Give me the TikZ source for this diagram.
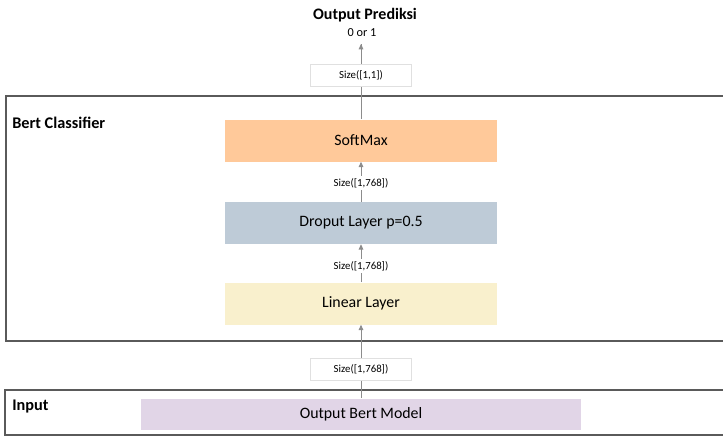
\documentclass[tikz,border=0pt]{standalone}
\usepackage{fontspec}
\setmainfont{Carlito}
\usetikzlibrary{arrows.meta}
\definecolor{softmaxfill}{HTML}{FFC99A}
\definecolor{dropfill}{HTML}{BECBD7}
\definecolor{linearfill}{HTML}{F9F0CD}
\definecolor{bertfill}{HTML}{E1D5E7}
\definecolor{framecol}{HTML}{5A5A5A}
\definecolor{arrowcol}{HTML}{8C8C8C}
\tikzset{
  layerbox/.style={draw=none, minimum width=272*0.75pt, minimum height=42*0.75pt, inner sep=0pt, font=\fontsize{11.9}{14}\selectfont},
  groupframe/.style={draw=framecol, line width=1pt},
  grouptitle/.style={anchor=west, inner sep=0pt, font=\bfseries\fontsize{12.2}{14}\selectfont},
  sizetag/.style={fill=white, inner sep=1.5pt, font=\fontsize{8.1}{9}\selectfont},
  sizebox/.style={fill=white, draw=black!12, line width=0.4pt, minimum width=101*0.75pt, minimum height=22*0.75pt, inner sep=0pt, font=\fontsize{8.1}{9}\selectfont},
  flow/.style={draw=arrowcol, line width=0.65pt, -{Triangle[length=4pt,width=3.5pt]}},
  plainline/.style={draw=arrowcol, line width=0.65pt}
}
\begin{document}
\begin{tikzpicture}[x=0.75pt, y=-0.75pt]
\useasboundingbox (0,0) rectangle (723,437);

% group frames (they run off the right edge)
\draw[groupframe] (730,96) -- (6,96) -- (6,341) -- (730,341);
\draw[groupframe] (730,390) -- (5,390) -- (5,435) -- (730,435);
\node[grouptitle] (tclass) at (12,123) {Bert Classifier};
\node[grouptitle] (tinput) at (12,406) {Input};

% layers
\node[layerbox, fill=softmaxfill] (soft) at (361,140.5) {SoftMax};
\node[layerbox, fill=dropfill] (drop) at (361,223) {Droput Layer p=0.5};
\node[layerbox, fill=linearfill] (lin) at (361,303.5) {Linear Layer};
\node[layerbox, fill=bertfill, minimum width=440*0.75pt, minimum height=31*0.75pt] (bert) at (361,414) {Output Bert Model};

% output
\node[font=\bfseries\fontsize{12}{14}\selectfont] (outtitle) at (365,15) {Output Prediksi};
\node[font=\fontsize{9.2}{11}\selectfont] (outval) at (362,33) {0 or 1};
\coordinate (tip) at (361,44);

% connectors
\draw[flow] (bert.north) -- (lin.south);
\draw[flow] (lin.north) -- (drop.south);
\draw[flow] (drop.north) -- (soft.south);
\draw[flow] (soft.north) -- (tip);

% size tags
\node[sizebox] (s0) at (361,369) {Size([1,768])};
\node[sizetag] (s1) at (361,266) {Size([1,768])};
\node[sizetag] (s2) at (361,183) {Size([1,768])};
\node[sizebox] (s3) at (361,75) {Size([1,1])};
\draw[plainline] (s3.north) -- (tip);
\end{tikzpicture}
\end{document}
